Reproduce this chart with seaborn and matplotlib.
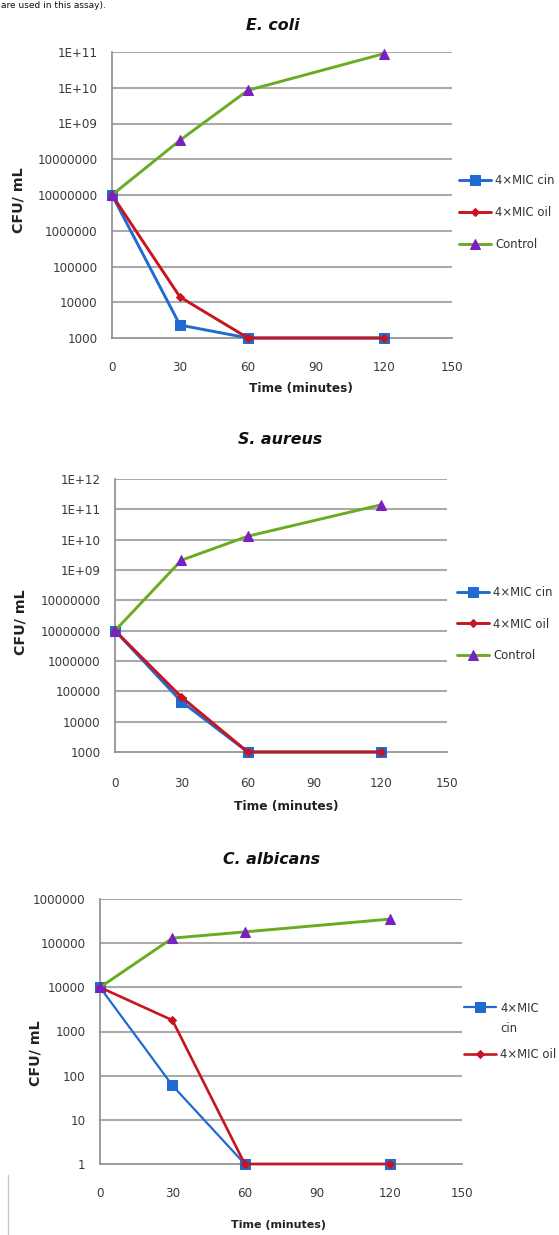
import numpy as np
import pandas as pd
import matplotlib
matplotlib.use("Agg")
import matplotlib.pyplot as plt
import seaborn as sns
from matplotlib.lines import Line2D

# ---------------- data ----------------
times = [0, 30, 60, 120]

ecoli_cin = [1e7, 2.3e3, 1e3, 1e3]
ecoli_oil = [1e7, 1.4e4, 1e3, 1e3]
ecoli_control = [1e7, 3.4e8, 8.5e9, 9e10]

saureus_cin = [1e7, 4.6e4, 1e3, 1e3]
saureus_oil = [1e7, 6.5e4, 1e3, 1e3]
saureus_control = [1e7, 2.1e9, 1.3e10, 1.4e11]

calb_cin = [1e4, 60, 1, 1]
calb_oil = [1e4, 1.8e3, 1, 1]
calb_control = [1e4, 1.3e5, 1.8e5, 3.5e5]

x_ticks = [0, 30, 60, 90, 120, 150]

ecoli_yticks = [1e3, 1e4, 1e5, 1e6, 1e7, 1e8, 1e9, 1e10, 1e11]
ecoli_ylabels = ["1000", "10000", "100000", "1000000", "10000000",
                 "10000000", "1E+09", "1E+10", "1E+11"]
saureus_yticks = [1e3, 1e4, 1e5, 1e6, 1e7, 1e8, 1e9, 1e10, 1e11, 1e12]
saureus_ylabels = ["1000", "10000", "100000", "1000000", "10000000",
                   "10000000", "1E+09", "1E+10", "1E+11", "1E+12"]
calb_yticks = [1, 10, 100, 1e3, 1e4, 1e5, 1e6]
calb_ylabels = ["1", "10", "100", "1000", "10000", "100000", "1000000"]

label_cin = "4×MIC cin"
label_cin_line1 = "4×MIC"
label_cin_line2 = "cin"
label_oil = "4×MIC oil"
label_control = "Control"

titles = ["E. coli", "S. aureus", "C. albicans"]
xlabel = "Time (minutes)"
ylabel = "CFU/ mL"
page_text = "are used in this assay)."

# ---------------- style ----------------
sns.set_theme(style="white")
plt.rcParams['font.family'] = ['DejaVu Sans']

BLUE = "#1f6bd2"
RED = "#c8141e"
GREEN = "#6aab22"
PURPLE = "#7a1fc4"
GRID = "#aaaaaa"
AXIS = "#8c8c8c"
TICKTXT = "#3a3a3a"
LEG_FS = 8.4

W, H = 559, 1235
fig = plt.figure(figsize=(W / 100, H / 100), dpi=100)


def fx(px):
    return px / W


def fy(py):
    return 1 - py / H


def make_ax(left, right, top, bottom):
    return fig.add_axes([fx(left), fy(bottom), fx(right) - fx(left), fy(top) - fy(bottom)])


def style_ax(ax, yticks, ylabels, ylim, xpad):
    ax.set_yscale("log")
    ax.set_xlim(0, 150)
    ax.set_ylim(*ylim)
    ax.set_xticks(x_ticks)
    ax.set_xticklabels([str(t) for t in x_ticks])
    ax.set_yticks(yticks)
    ax.set_yticklabels(ylabels)
    ax.yaxis.set_minor_locator(matplotlib.ticker.NullLocator())
    ax.grid(False)
    for yv in yticks[1:]:
        ax.axhline(yv, color=GRID, lw=1.5, zorder=0)
    for s in ["top", "right"]:
        ax.spines[s].set_visible(False)
    for s in ["left", "bottom"]:
        ax.spines[s].set_color(AXIS)
        ax.spines[s].set_linewidth(1.2)
    ax.tick_params(axis="both", which="major", direction="out", length=3.5,
                   width=1.0, color=AXIS, labelsize=8.6, labelcolor=TICKTXT)
    ax.tick_params(axis="x", pad=xpad)
    ax.tick_params(axis="y", pad=7)
    ax.set_facecolor("white")


def draw_series(ax, cin, oil, ctrl, cin_label, ctrl_label, lws=(2.1, 2.1, 2.1)):
    sns.lineplot(x=times, y=cin, ax=ax, label=cin_label, color=BLUE, lw=lws[0],
                 marker="s", markersize=7, markerfacecolor=BLUE,
                 markeredgecolor=BLUE, clip_on=False, zorder=3)
    sns.lineplot(x=times, y=oil, ax=ax, label=label_oil, color=RED, lw=lws[1],
                 marker="D", markersize=4.5, markerfacecolor=RED,
                 markeredgecolor=RED, clip_on=False, zorder=4)
    sns.lineplot(x=times, y=ctrl, ax=ax, label=ctrl_label, color=GREEN,
                 lw=lws[2], marker="^", markersize=7, markerfacecolor=PURPLE,
                 markeredgecolor=PURPLE, clip_on=False, zorder=5)


def finish(ax, legend_xy, ylab_xy, xlab_xy, xlab_fs, labelspacing, n_leg):
    ax.set_xlabel(xlabel, fontsize=xlab_fs, fontweight="bold", color="#222222",
                  va="center")
    ax.set_ylabel(ylabel, fontsize=10.3, fontweight="bold", color="#222222",
                  va="center")
    ax.xaxis.set_label_coords(*xlab_xy)
    ax.yaxis.set_label_coords(*ylab_xy)
    handles, labels = ax.get_legend_handles_labels()
    leg = ax.legend(handles[:n_leg], labels[:n_leg], loc="center left",
                    bbox_to_anchor=legend_xy,
                    bbox_transform=fig.transFigure, frameon=False,
                    fontsize=LEG_FS, handlelength=2.7, handletextpad=0.4,
                    labelspacing=labelspacing, borderpad=0, borderaxespad=0)
    for t in leg.get_texts():
        t.set_color("#333333")
    return leg


# ---- panel 1: E. coli ----
ax1 = make_ax(112, 452, 52, 338)
style_ax(ax1, ecoli_yticks, ecoli_ylabels, (1e3, 1e11), 13)
draw_series(ax1, ecoli_cin, ecoli_oil, ecoli_control, label_cin, label_control)
finish(ax1, (fx(459), fy(212.5)), (-0.276, 0.483), (0.556, -0.175), 8.7, 1.62, 3)

# ---- panel 2: S. aureus ----
ax2 = make_ax(115, 447, 479, 752)
style_ax(ax2, saureus_yticks, saureus_ylabels, (1e3, 1e12), 14.5)
draw_series(ax2, saureus_cin, saureus_oil, saureus_control, label_cin, label_control)
finish(ax2, (fx(457), fy(624)), (-0.286, 0.476), (0.515, -0.198), 8.8, 1.62, 3)

# ---- panel 3: C. albicans ----
ax3 = make_ax(100, 462, 899, 1164)
style_ax(ax3, calb_yticks, calb_ylabels, (1, 1e6), 13)
draw_series(ax3, calb_cin, calb_oil, calb_control, label_cin_line1, "_nolegend_",
            lws=(1.6, 1.9, 2.1))
leg3 = finish(ax3, (fx(464), fy(1031.5)), (-0.177, 0.419), (0.494, -0.23), 8.0, 2.9, 2)

# second line of the wrapped legend label in panel 3
fig.canvas.draw()
bb = leg3.get_texts()[0].get_window_extent(fig.canvas.get_renderer())
fig.text(bb.x0 / fig.bbox.width, fy(1028), label_cin_line2, ha="left",
         va="center", fontsize=LEG_FS, color="#333333")

# titles
for title, (tx, ty) in zip(titles, [(273, 25), (280, 440), (272, 860)]):
    fig.text(fx(tx), fy(ty), title, ha="center", va="center", fontsize=11.4,
             fontweight="bold", fontstyle="italic", color="#111111")

# page text at very top
fig.text(fx(1), fy(1), page_text, ha="left", va="top", fontsize=6.5,
         color="#111111")

# page border line bottom-left
fig.add_artist(Line2D([fx(8), fx(8)], [fy(1175), fy(1235)], color="#c8c8c8",
                      lw=1.0, transform=fig.transFigure))

fig.savefig("out.png", dpi=100, facecolor="white")
